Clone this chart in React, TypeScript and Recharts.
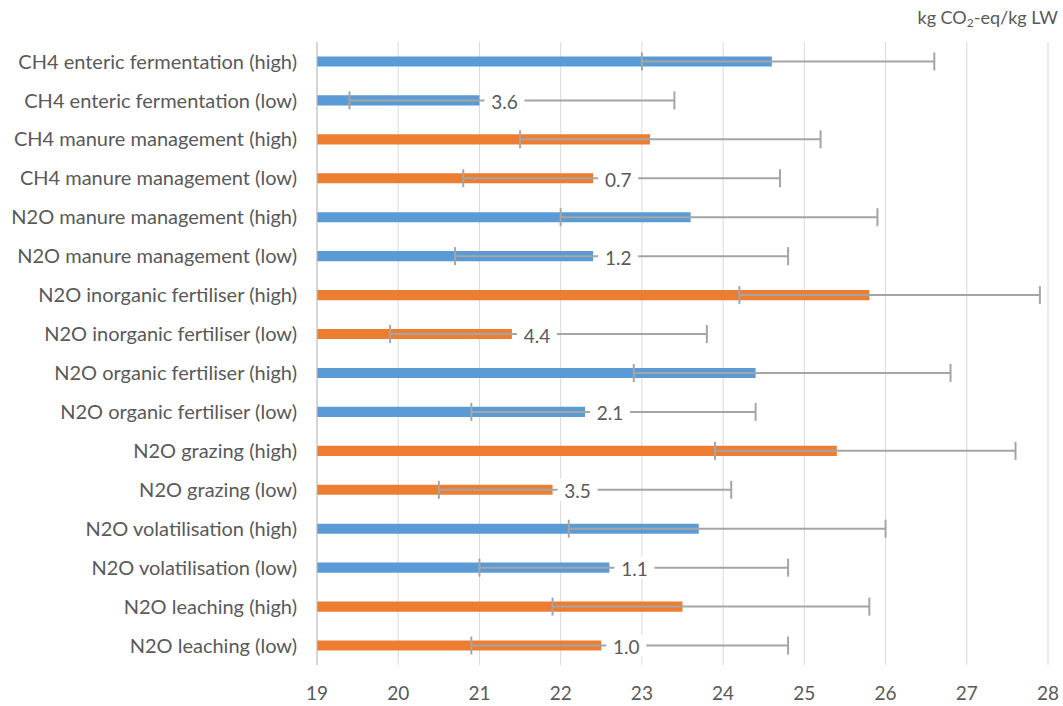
import { BarChart, Bar, XAxis, YAxis, CartesianGrid, ErrorBar, LabelList, Cell } from "recharts";

const categories = [
  "CH4 enteric fermentation (high)",
  "CH4 enteric fermentation (low)",
  "CH4 manure management (high)",
  "CH4 manure management (low)",
  "N2O manure management (high)",
  "N2O manure management (low)",
  "N2O inorganic fertiliser (high)",
  "N2O inorganic fertiliser (low)",
  "N2O organic fertiliser (high)",
  "N2O organic fertiliser (low)",
  "N2O grazing (high)",
  "N2O grazing (low)",
  "N2O volatilisation (high)",
  "N2O volatilisation (low)",
  "N2O leaching (high)",
  "N2O leaching (low)",
];

const values = [24.6, 21.0, 23.1, 22.4, 23.6, 22.4, 25.8, 21.4, 24.4, 22.3, 25.4, 21.9, 23.7, 22.6, 23.5, 22.5];
const lows = [23.0, 19.4, 21.5, 20.8, 22.0, 20.7, 24.2, 19.9, 22.9, 20.9, 23.9, 20.5, 22.1, 21.0, 21.9, 20.9];
const highs = [26.6, 23.4, 25.2, 24.7, 25.9, 24.8, 27.9, 23.8, 26.8, 24.4, 27.6, 24.1, 26.0, 24.8, 25.8, 24.8];
const diffLabels = [null, "3.6", null, "0.7", null, "1.2", null, "4.4", null, "2.1", null, "3.5", null, "1.1", null, "1.0"];
const groupColors = ["#5b9bd5", "#ed7d31"];
const xTicks = [19, 20, 21, 22, 23, 24, 25, 26, 27, 28];

const data = categories.map((name, i) => ({
  name,
  value: values[i],
  err: [values[i] - lows[i], highs[i] - values[i]],
  diff: diffLabels[i],
}));

const FONT = "Lato, 'Open Sans', sans-serif";

function DiffLabel(props: any) {
  const { x, y, width, height, value } = props;
  if (!value) return null;
  const ex = x + width;
  const cy = y + height / 2;
  return (
    <g>
      <rect x={ex + 5} y={cy - 11} width={40} height={22} fill="#ffffff" />
      <text
        x={ex + 25}
        y={cy + 1}
        textAnchor="middle"
        dominantBaseline="central"
        fill="#595959"
        fontSize={19}
        fontFamily={FONT}
      >
        {value}
      </text>
    </g>
  );
}

export default function App() {
  return (
    <div style={{ position: "fixed", left: 0, top: 0, width: 1063, height: 706, background: "#fff" }}>
      <div
        style={{
          position: "absolute",
          right: 5,
          top: 6,
          fontFamily: FONT,
          fontSize: 18,
          color: "#595959",
          whiteSpace: "nowrap",
        }}
      >
        kg CO<sub style={{ fontSize: 12, verticalAlign: "-3px" }}>2</sub>-eq/kg LW
      </div>
      <BarChart
        width={1063}
        height={706}
        data={data}
        layout="vertical"
        margin={{ top: 42, right: 15, bottom: 0, left: 0 }}
        barCategoryGap="63%"
      >
        <CartesianGrid horizontal={false} stroke="#d9d9d9" />
        <XAxis
          type="number"
          domain={[19, 28]}
          ticks={xTicks}
          axisLine={false}
          tickLine={false}
          height={41}
          tickMargin={16}
          tick={{ fill: "#595959", fontSize: 19, fontFamily: FONT }}
        />
        <YAxis
          type="category"
          dataKey="name"
          width={317}
          axisLine={{ stroke: "#bfbfbf" }}
          tickLine={false}
          tickMargin={14}
          interval={0}
          tick={{ fill: "#595959", fontSize: 20, fontFamily: FONT }}
        />
        <Bar dataKey="value" isAnimationActive={false}>
          {data.map((d, i) => (
            <Cell key={i} fill={groupColors[Math.floor(i / 2) % 2]} />
          ))}
          <ErrorBar
            dataKey="err"
            direction="x"
            stroke="#a5a5a5"
            strokeWidth={2}
            width={9}
            isAnimationActive={false}
          />
          <LabelList dataKey="diff" content={<DiffLabel />} />
        </Bar>
      </BarChart>
    </div>
  );
}
